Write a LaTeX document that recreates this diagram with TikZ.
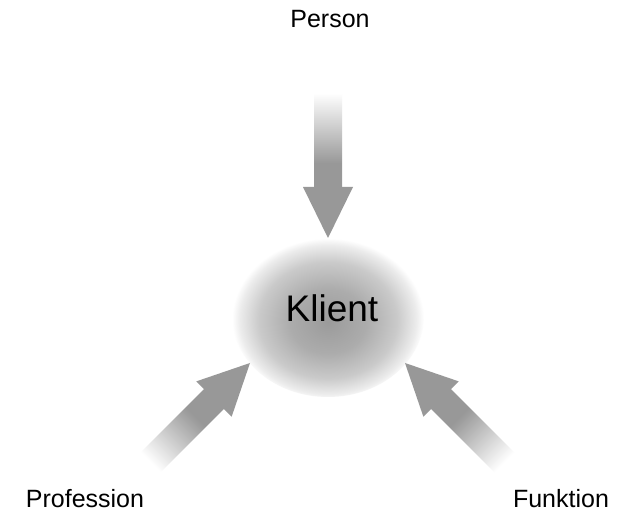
\documentclass[tikz,border=0pt]{standalone}
\usepackage{fontspec}
\setmainfont{Liberation Sans}
\definecolor{arrowgray}{RGB}{152,152,152}
\definecolor{klientc}{RGB}{155,155,155}
\definecolor{klientm}{RGB}{172,172,172}
\definecolor{klientn}{RGB}{202,202,202}
\definecolor{klientl}{RGB}{236,236,236}
\pgfdeclarehorizontalshading{arrowfade}{100bp}{color(0bp)=(white); color(25bp)=(white); color(62bp)=(arrowgray); color(100bp)=(arrowgray)}
\pgfdeclareradialshading{klientshade}{\pgfpoint{0bp}{-2bp}}{color(0bp)=(klientc); color(10bp)=(klientm); color(18bp)=(klientn); color(23bp)=(klientl); color(25bp)=(white); color(50bp)=(white)}
\tikzset{
  lbl/.style={font=\fontsize{25}{30}\selectfont, inner sep=0pt, anchor=base},
  arrowhead/.style={fill=arrowgray, draw=none},
  arrowshaft/.style={shading=arrowfade, draw=none}
}
\newcommand{\fadearrow}[2]{%
  \begin{scope}[shift={(#1)}, rotate=#2]
    \shade[arrowshaft, shading angle=#2] (-145pt,-14pt) rectangle (-50pt,14pt);
    \fill[arrowhead] (0,0) -- (-51pt,25pt) -- (-51pt,-25pt) -- cycle;
  \end{scope}}
\begin{document}
\begin{tikzpicture}[x=1pt,y=1pt]
\useasboundingbox (0,0) rectangle (625,512);
\fill[white] (0,0) rectangle (625,512);
\shade[shading=klientshade] (328,196) ellipse [x radius=96, y radius=81];
\node[lbl, font=\fontsize{37}{44}\selectfont] (klient) at (332,190) {Klient};
\node[lbl] (person) at (330,484) {Person};
\node[lbl] (profession) at (85,4) {Profession};
\node[lbl] (funktion) at (561,4) {Funktion};
\coordinate (tipP) at (328,274);
\coordinate (tipL) at (250,149);
\coordinate (tipR) at (405,149);
\fadearrow{tipP}{-90}
\fadearrow{tipL}{45}
\fadearrow{tipR}{135}
\end{tikzpicture}
\end{document}
